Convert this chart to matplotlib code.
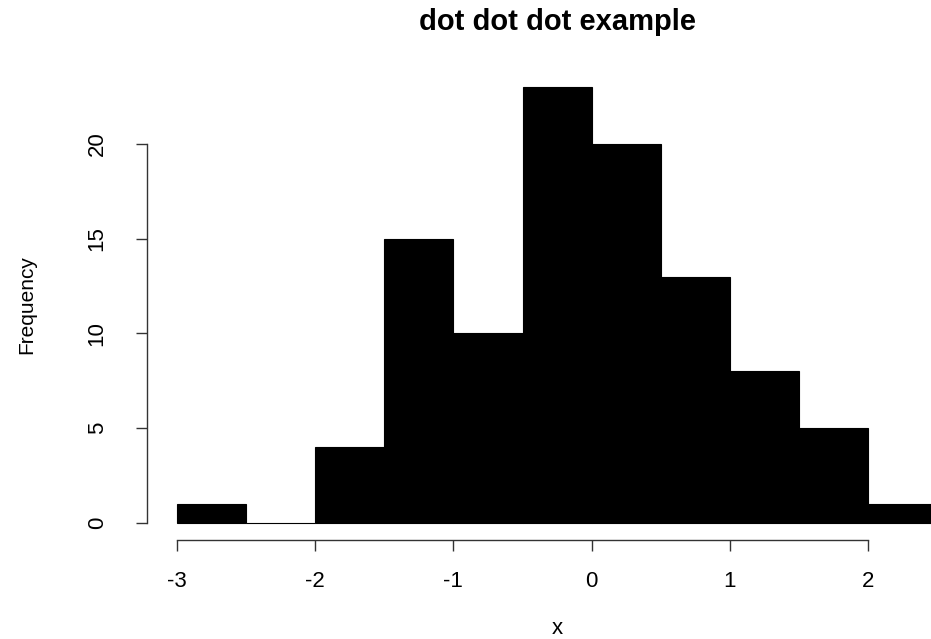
import numpy as np
import matplotlib.pyplot as plt

plt.rcParams['font.family'] = ['Liberation Sans', 'DejaVu Sans']

# === Histogram data (bin edges and counts) ===
bin_edges = [-3.0, -2.5, -2.0, -1.5, -1.0, -0.5, 0.0, 0.5, 1.0, 1.5, 2.0, 2.5]
counts = [1, 0, 4, 15, 10, 23, 20, 13, 8, 5, 1]
x_ticks = [-3, -2, -1, 0, 1, 2]
y_ticks = [0, 5, 10, 15, 20]

W, H = 931, 639
fig = plt.figure(figsize=(W / 100, H / 100), dpi=100)

# plot region in pixels (R-style, runs past the right edge)
left_px, right_px = 146.6, 967.5
top_px, bottom_px = 69.7, 540.4
ax = fig.add_axes([left_px / W, 1 - bottom_px / H,
                   (right_px - left_px) / W, (bottom_px - top_px) / H])

edges = np.array(bin_edges)
ax.bar(edges[:-1], counts, width=np.diff(edges), align='edge',
       color='black', edgecolor='black', linewidth=0.8)

# R adds 4% padding on each side
xr = edges[-1] - edges[0]
ax.set_xlim(edges[0] - 0.04 * xr, edges[-1] + 0.04 * xr)
ymax = max(counts)
ax.set_ylim(-0.04 * ymax, ymax * 1.04)

for s in ['top', 'right']:
    ax.spines[s].set_visible(False)
ax.spines['bottom'].set_bounds(x_ticks[0], x_ticks[-1])
ax.spines['left'].set_bounds(y_ticks[0], y_ticks[-1])
for s in ['bottom', 'left']:
    ax.spines[s].set_color('#333333')
    ax.spines[s].set_linewidth(1.0)

ax.set_xticks(x_ticks)
ax.set_xticklabels([str(v) for v in x_ticks])
ax.set_yticks(y_ticks)
ax.set_yticklabels([str(v) for v in y_ticks], rotation=90, va='center')
ax.tick_params(axis='both', length=8, width=1.0, color='#333333',
               labelsize=16, direction='out')
ax.tick_params(axis='x', pad=14)
ax.tick_params(axis='y', pad=20)

ax.set_xlabel('x', fontsize=16)
ax.xaxis.set_label_coords(0.5, (bottom_px - 628) / (bottom_px - top_px))
ax.xaxis.label.set_va('center')
ax.set_ylabel('Frequency', fontsize=15)
ax.yaxis.set_label_coords((27 - left_px) / (right_px - left_px), 0.5)
ax.yaxis.label.set_va('center')

# title centred over the plot region, like R's main
fig.text((left_px + right_px) / 2 / W, 1 - 22 / H, 'dot dot dot example',
         ha='center', va='center', fontsize=21, fontweight='bold')

fig.savefig('out.png', dpi=100)
